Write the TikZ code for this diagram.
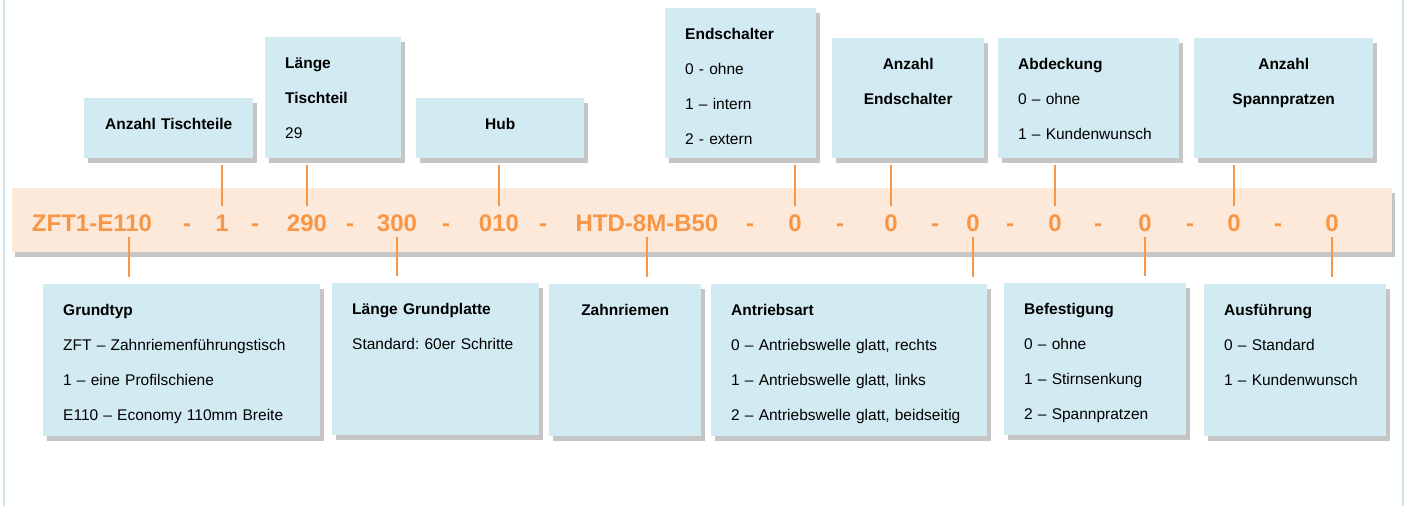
\documentclass[tikz,border=0pt]{standalone}
\usepackage{fontspec}
\setmainfont{Liberation Sans}
\frenchspacing
\usetikzlibrary{positioning,shadows}
\definecolor{infoBlue}   {RGB}{210,234,242}
\definecolor{codePeach}  {RGB}{253,233,217}
\definecolor{codeOrange} {RGB}{247,150,70}
\definecolor{frameBlue}  {RGB}{205,229,239}
\tikzstyle{infobox}  = [fill=infoBlue, anchor=north west, inner xsep=20pt, inner ysep=0pt, text height=31pt, align=left,
                        font=\fontsize{15.5}{35}\selectfont,
                        drop shadow={shadow xshift=4pt, shadow yshift=-5pt, fill=black!45, opacity=0.5}]
\tikzstyle{codeband} = [fill=codePeach, minimum width=1380pt, minimum height=64pt, inner sep=0pt,
                        drop shadow={shadow xshift=3pt, shadow yshift=-5pt, fill=black!45, opacity=0.5}]
\tikzstyle{code}     = [anchor=base, inner sep=0pt, text=codeOrange, font=\bfseries\fontsize{24}{24}\selectfont]
\tikzstyle{codeLink} = [draw=codeOrange, line width=1.5pt]

\begin{document}
\begin{tikzpicture}[x=1pt,y=-1pt]
			\path[use as bounding box, fill=white] (0,0) rectangle (1406,506);
			\draw[frameBlue, line width=2pt] (4,-10) rectangle (1403,520);

			\node[infobox, text width=129pt, text depth=29pt, align=center] (tTeile)  at (84,98)   {\textbf{Anzahl Tischteile}};
			\node[infobox, text width=96pt,  text depth=90pt]                (tLaenge) at (265,37)  {\textbf{Länge}\\\textbf{Tischteil}\\29};
			\node[infobox, text width=128pt, text depth=29pt, align=center] (tHub)    at (416,98)  {\textbf{Hub}};
			\node[infobox, text width=111pt, text depth=119pt]               (tEnd)    at (665,8)   {\textbf{Endschalter}\\0 - ohne\\1 – intern\\2 - extern};
			\node[infobox, text width=112pt, text depth=89pt, align=center] (tAnzEnd) at (832,38)  {\textbf{Anzahl}\\\textbf{Endschalter}};
			\node[infobox, text width=141pt, text depth=89pt]                (tAbd)    at (998,38)  {\textbf{Abdeckung}\\0 – ohne\\1 – Kundenwunsch};
			\node[infobox, text width=139pt, text depth=89pt, align=center] (tSpann)  at (1194,38) {\textbf{Anzahl}\\\textbf{Spannpratzen}};

			\node[codeband] (band) at (702,220) {};
			\node[code] (cTyp)     at (92,231)   {ZFT1-E110};
			\node[code] (dTyp)     at (187,231)  {-};
			\node[code] (cTeile)   at (222,231)  {1};
			\node[code] (dTeile)   at (255,231)  {-};
			\node[code] (cLaenge)  at (307,231)  {290};
			\node[code] (dLaenge)  at (350,231)  {-};
			\node[code] (cPlatte)  at (397,231)  {300};
			\node[code] (dPlatte)  at (446,231)  {-};
			\node[code] (cHub)     at (499,231)  {010};
			\node[code] (dHub)     at (543,231)  {-};
			\node[code] (cRiemen)  at (647,231)  {HTD-8M-B50};
			\node[code] (dRiemen)  at (750,231)  {-};
			\node[code] (cEnd)     at (795,231)  {0};
			\node[code] (dEnd)     at (840,231)  {-};
			\node[code] (cAnzEnd)  at (891,231)  {0};
			\node[code] (dAnzEnd)  at (935,231)  {-};
			\node[code] (cAntrieb) at (973,231)  {0};
			\node[code] (dAntrieb) at (1010,231) {-};
			\node[code] (cAbd)     at (1055,231) {0};
			\node[code] (dAbd)     at (1098,231) {-};
			\node[code] (cBef)     at (1145,231) {0};
			\node[code] (dBef)     at (1190,231) {-};
			\node[code] (cSpann)   at (1234,231) {0};
			\node[code] (dSpann)   at (1278,231) {-};
			\node[code] (cAus)     at (1332,231) {0};

			\node[infobox, text width=237pt, text depth=121pt]               (bGrund)   at (43,284)   {\textbf{Grundtyp}\\ZFT – Zahnriemenführungstisch\\1 – eine Profilschiene\\E110 – Economy 110mm Breite};
			\node[infobox, text width=167pt, text depth=121pt]               (bPlatte)  at (332,283)  {\textbf{Länge Grundplatte}\\Standard: 60er Schritte};
			\node[infobox, text width=112pt, text depth=121pt, align=center] (bRiemen)  at (549,284)  {\textbf{Zahnriemen}};
			\node[infobox, text width=236pt, text depth=121pt]               (bAntrieb) at (711,284)  {\textbf{Antriebsart}\\0 – Antriebswelle glatt, rechts\\1 – Antriebswelle glatt, links\\2 – Antriebswelle glatt, beidseitig};
			\node[infobox, text width=142pt, text depth=121pt]               (bBef)     at (1004,283) {\textbf{Befestigung}\\0 – ohne\\1 – Stirnsenkung\\2 – Spannpratzen};
			\node[infobox, text width=142pt, text depth=121pt]               (bAus)     at (1204,284) {\textbf{Ausführung}\\0 – Standard\\1 – Kundenwunsch};

			\draw[codeLink] ([yshift=-7pt]tTeile.south -| cTeile)   -- ([yshift=8pt]cTeile.north);
			\draw[codeLink] ([yshift=-7pt]tLaenge.south -| cLaenge) -- ([yshift=8pt]cLaenge.north);
			\draw[codeLink] ([yshift=-7pt]tHub.south -| cHub)       -- ([yshift=8pt]cHub.north);
			\draw[codeLink] ([yshift=-7pt]tEnd.south -| cEnd)       -- ([yshift=8pt]cEnd.north);
			\draw[codeLink] ([yshift=-7pt]tAnzEnd.south -| cAnzEnd) -- ([yshift=8pt]cAnzEnd.north);
			\draw[codeLink] ([yshift=-7pt]tAbd.south -| cAbd)       -- ([yshift=8pt]cAbd.north);
			\draw[codeLink] ([yshift=-7pt]tSpann.south -| cSpann)   -- ([yshift=8pt]cSpann.north);

			\draw[codeLink] ([xshift=37pt,yshift=-6pt]cTyp.south) -- ([xshift=37pt,yshift=7pt]bGrund.north -| cTyp);
			\draw[codeLink] ([yshift=-6pt]cPlatte.south)  -- ([yshift=7pt]bPlatte.north -| cPlatte);
			\draw[codeLink] ([yshift=-6pt]cRiemen.south)  -- ([yshift=7pt]bRiemen.north -| cRiemen);
			\draw[codeLink] ([yshift=-6pt]cAntrieb.south) -- ([yshift=7pt]bAntrieb.north -| cAntrieb);
			\draw[codeLink] ([yshift=-6pt]cBef.south)     -- ([yshift=7pt]bBef.north -| cBef);
			\draw[codeLink] ([yshift=-6pt]cAus.south)     -- ([yshift=7pt]bAus.north -| cAus);
		\end{tikzpicture}
\end{document}
